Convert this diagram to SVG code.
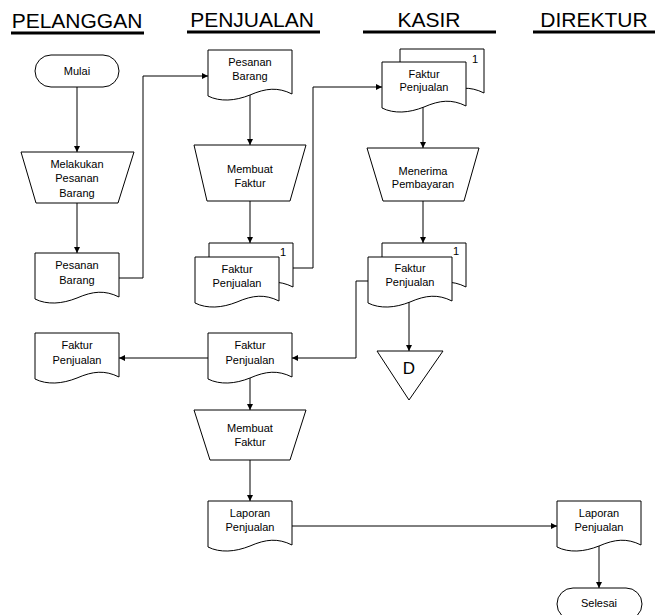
<svg xmlns="http://www.w3.org/2000/svg" xmlns:xlink="http://www.w3.org/1999/xlink" width="655" height="615" viewBox="0 0 655 615">
  <style>
    .shape { fill: #fff; stroke: #000; stroke-width: 1; }
    .lbl { font-family: "Liberation Sans", Arial, sans-serif; font-size: 11px; text-anchor: middle; fill: #000; }
    .num { font-family: "Liberation Sans", Arial, sans-serif; font-size: 11px; fill: #000; }
    .head { font-family: "Liberation Sans", Arial, sans-serif; font-size: 21px; text-anchor: middle; fill: #000; }
    .rule { stroke: #000; stroke-width: 3; }
    .conn { fill: none; stroke: #000; stroke-width: 1; }
  </style>
  <defs>
    <!-- document symbol: 84 wide, wavy bottom -->
    <path id="doc" d="M0,0 H84 V44 C70,37 58,38 42,45 C27,51 12,52 0,46 Z"/>
    <marker id="arrow" viewBox="0 0 10 10" refX="10" refY="5" markerWidth="7" markerHeight="6" markerUnits="userSpaceOnUse" orient="auto">
      <path d="M0,0 L10,5 L0,10 Z" fill="#000"/>
    </marker>
  </defs>

  <rect width="655" height="615" fill="#fff"/>

  <!-- swimlane headers -->
  <g id="headers">
    <text class="head" x="77" y="28">PELANGGAN</text>
    <line class="rule" x1="11" y1="33" x2="144" y2="33"/>
    <text class="head" x="252" y="27">PENJUALAN</text>
    <line class="rule" x1="187" y1="32" x2="320" y2="32"/>
    <text class="head" x="429" y="27">KASIR</text>
    <line class="rule" x1="363" y1="32" x2="496" y2="32"/>
    <text class="head" x="594" y="27">DIREKTUR</text>
    <line class="rule" x1="533" y1="32" x2="655" y2="32"/>
  </g>

  <!-- connectors -->
  <g id="connectors">
    <path class="conn" d="M77,87 V152" marker-end="url(#arrow)"/>
    <path class="conn" d="M77,203 V253" marker-end="url(#arrow)"/>
    <path class="conn" d="M119,278 H143 V76 H208" marker-end="url(#arrow)"/>
    <path class="conn" d="M250,95 V145" marker-end="url(#arrow)"/>
    <path class="conn" d="M250,201 V243" marker-end="url(#arrow)"/>
    <path class="conn" d="M292,268 H313 V87 H382" marker-end="url(#arrow)"/>
    <path class="conn" d="M423,107 V148" marker-end="url(#arrow)"/>
    <path class="conn" d="M423,201 V243" marker-end="url(#arrow)"/>
    <path class="conn" d="M409,302 V351" marker-end="url(#arrow)"/>
    <path class="conn" d="M368,281 H356 V358 H292" marker-end="url(#arrow)"/>
    <path class="conn" d="M208,358 H119" marker-end="url(#arrow)"/>
    <path class="conn" d="M250,378 V410" marker-end="url(#arrow)"/>
    <path class="conn" d="M250,460 V501" marker-end="url(#arrow)"/>
    <path class="conn" d="M292,526 H557" marker-end="url(#arrow)"/>
    <path class="conn" d="M599,546 V588" marker-end="url(#arrow)"/>
  </g>

  <!-- PELANGGAN lane -->
  <g id="mulai">
    <rect class="shape" x="35" y="55" width="84" height="32" rx="16"/>
    <text class="lbl" x="77" y="75">Mulai</text>
  </g>
  <g id="melakukan-pesanan">
    <polygon class="shape" points="21,152 134,152 118,203 36,203"/>
    <text class="lbl" x="77" y="168">Melakukan</text>
    <text class="lbl" x="77" y="182">Pesanan</text>
    <text class="lbl" x="77" y="197">Barang</text>
  </g>
  <g id="pesanan-barang-pelanggan">
    <use href="#doc" xlink:href="#doc" class="shape" x="35" y="253"/>
    <text class="lbl" x="77" y="269">Pesanan</text>
    <text class="lbl" x="77" y="284">Barang</text>
  </g>
  <g id="faktur-pelanggan">
    <use href="#doc" xlink:href="#doc" class="shape" x="35" y="333"/>
    <text class="lbl" x="77" y="349">Faktur</text>
    <text class="lbl" x="77" y="364">Penjualan</text>
  </g>

  <!-- PENJUALAN lane -->
  <g id="pesanan-barang-penjualan">
    <use href="#doc" xlink:href="#doc" class="shape" x="208" y="50"/>
    <text class="lbl" x="250" y="66">Pesanan</text>
    <text class="lbl" x="250" y="80">Barang</text>
  </g>
  <g id="membuat-faktur-1">
    <polygon class="shape" points="194,145 306,145 290,201 207,201"/>
    <text class="lbl" x="250" y="173">Membuat</text>
    <text class="lbl" x="250" y="187">Faktur</text>
  </g>
  <g id="faktur-penjualan-rangkap">
    <use href="#doc" xlink:href="#doc" class="shape" x="209" y="243"/>
    <use href="#doc" xlink:href="#doc" class="shape" x="195" y="257"/>
    <text class="num" x="280" y="256">1</text>
    <text class="lbl" x="237" y="273">Faktur</text>
    <text class="lbl" x="237" y="287">Penjualan</text>
  </g>
  <g id="faktur-penjualan">
    <use href="#doc" xlink:href="#doc" class="shape" x="208" y="333"/>
    <text class="lbl" x="250" y="349">Faktur</text>
    <text class="lbl" x="250" y="364">Penjualan</text>
  </g>
  <g id="membuat-faktur-2">
    <polygon class="shape" points="194,410 306,410 290,460 210,460"/>
    <text class="lbl" x="250" y="432">Membuat</text>
    <text class="lbl" x="250" y="446">Faktur</text>
  </g>
  <g id="laporan-penjualan">
    <use href="#doc" xlink:href="#doc" class="shape" x="208" y="501"/>
    <text class="lbl" x="250" y="517">Laporan</text>
    <text class="lbl" x="250" y="531">Penjualan</text>
  </g>

  <!-- KASIR lane -->
  <g id="faktur-kasir-1">
    <use href="#doc" xlink:href="#doc" class="shape" x="400" y="49"/>
    <use href="#doc" xlink:href="#doc" class="shape" x="382" y="62"/>
    <text class="num" x="472" y="63">1</text>
    <text class="lbl" x="424" y="78">Faktur</text>
    <text class="lbl" x="424" y="91">Penjualan</text>
  </g>
  <g id="menerima-pembayaran">
    <polygon class="shape" points="367,148 479,148 464,201 383,201"/>
    <text class="lbl" x="423" y="175">Menerima</text>
    <text class="lbl" x="423" y="188">Pembayaran</text>
  </g>
  <g id="faktur-kasir-2">
    <use href="#doc" xlink:href="#doc" class="shape" x="382" y="243"/>
    <use href="#doc" xlink:href="#doc" class="shape" x="368" y="257"/>
    <text class="num" x="453" y="255">1</text>
    <text class="lbl" x="410" y="272">Faktur</text>
    <text class="lbl" x="410" y="286">Penjualan</text>
  </g>
  <g id="arsip-d">
    <polygon class="shape" points="377,351 443,351 409,400"/>
    <text class="lbl" x="409" y="374" style="font-size:17px">D</text>
  </g>

  <!-- DIREKTUR lane -->
  <g id="laporan-direktur">
    <use href="#doc" xlink:href="#doc" class="shape" x="557" y="501"/>
    <text class="lbl" x="599" y="517">Laporan</text>
    <text class="lbl" x="599" y="531">Penjualan</text>
  </g>
  <g id="selesai">
    <rect class="shape" x="557" y="588" width="85" height="32" rx="16"/>
    <text class="lbl" x="599" y="607">Selesai</text>
  </g>
</svg>
